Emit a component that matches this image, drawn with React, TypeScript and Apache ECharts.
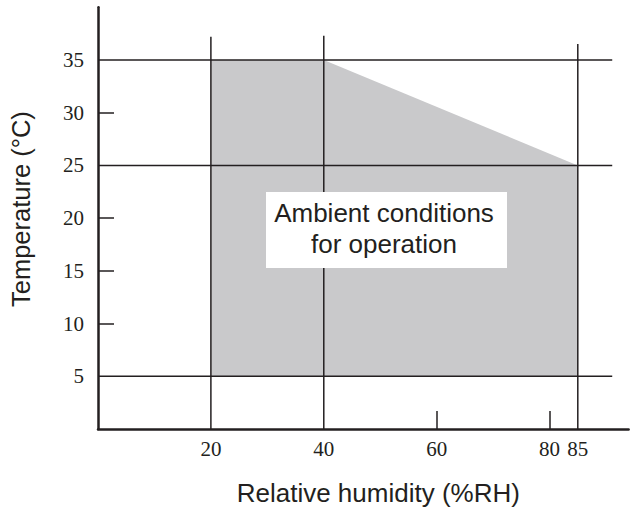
import React, { useEffect, useRef } from "react";
import * as echarts from "echarts";

// Operating region (humidity %RH, temperature °C)
const regionHumidity = [20, 20, 40, 85, 85];
const regionTemperature = [5, 35, 35, 25, 5];

// Reference lines
const horizontalTemps = [5, 25, 35];
const horizontalEnd = 91.1;
const verticalHumidity = [20, 40, 85];
const verticalTops = [37.2, 37.3, 36.5];

// Tick labels
const xLabelValues = [20, 40, 60, 80, 85];
const xTickValues = [60, 80];
const yLabelValues = [5, 10, 15, 20, 25, 30, 35];
const yTickValues = [10, 15, 20, 30];

const INK = "#231f20";

export default function App() {
  const ref = useRef<HTMLDivElement>(null);
  useEffect(() => {
    if (!ref.current) return;
    const chart = echarts.init(ref.current, undefined, { renderer: "svg" });
    const polygon = regionHumidity.map((h, i) => [h, regionTemperature[i]]);

    const lineSeries: any[] = [];
    horizontalTemps.forEach((t) => {
      lineSeries.push({
        type: "line",
        data: [[0, t], [horizontalEnd, t]],
        symbol: "none",
        lineStyle: { color: INK, width: 1.5 },
        z: 3,
        silent: true,
      });
    });
    verticalHumidity.forEach((h, i) => {
      lineSeries.push({
        type: "line",
        data: [[h, 0], [h, verticalTops[i]]],
        symbol: "none",
        lineStyle: { color: INK, width: 1.5 },
        z: 3,
        silent: true,
      });
    });

    chart.setOption({
      animation: false,
      grid: { left: 97.5, right: 3.4, top: 7.2, bottom: 79 },
      xAxis: {
        type: "value",
        min: 0,
        max: 94,
        interval: 5,
        splitLine: { show: false },
        axisLine: { show: true, lineStyle: { color: INK, width: 2.5 } },
        axisTick: {
          show: true,
          inside: true,
          length: 18,
          customValues: xTickValues,
          lineStyle: { color: INK, width: 1.5 },
        },
        axisLabel: {
          customValues: xLabelValues,
          fontFamily: "Liberation Serif",
          fontSize: 21,
          color: INK,
          margin: 9,
        },
        name: "Relative humidity (%RH)",
        nameLocation: "middle",
        nameGap: 51,
        nameTextStyle: {
          fontFamily: "Liberation Sans",
          fontSize: 26,
          color: INK,
          padding: [0, 0, 0, 30],
        },
      },
      yAxis: {
        type: "value",
        min: 0,
        max: 40,
        interval: 5,
        splitLine: { show: false },
        axisLine: { show: true, lineStyle: { color: INK, width: 2.5 } },
        axisTick: {
          show: true,
          inside: true,
          length: 16,
          customValues: yTickValues,
          lineStyle: { color: INK, width: 1.5 },
        },
        axisLabel: {
          customValues: yLabelValues,
          fontFamily: "Liberation Serif",
          fontSize: 21,
          color: INK,
          margin: 14,
        },
        name: "Temperature (°C)",
        nameLocation: "middle",
        nameGap: 64,
        nameRotate: 90,
        nameTextStyle: {
          fontFamily: "Liberation Sans",
          fontSize: 25.5,
          color: INK,
          padding: [0, 0, 0, 18],
        },
      },
      series: [
        {
          type: "custom",
          data: [0],
          silent: true,
          z: 1,
          renderItem: (_params: any, api: any) => {
            const pts = polygon.map((p) => api.coord(p));
            return {
              type: "polygon",
              shape: { points: pts },
              style: { fill: "#c9c9cb" },
            };
          },
        },
        ...lineSeries,
      ],
      graphic: [
        {
          type: "rect",
          z: 100,
          shape: { x: 266, y: 192, width: 241, height: 76 },
          style: { fill: "#ffffff" },
        },
        {
          type: "text",
          z: 101,
          x: 384,
          y: 213,
          style: {
            text: "Ambient conditions",
            fontFamily: "Liberation Sans",
            fontSize: 26,
            fill: INK,
            align: "center",
            verticalAlign: "middle",
          },
        },
        {
          type: "text",
          z: 101,
          x: 384,
          y: 244,
          style: {
            text: "for operation",
            fontFamily: "Liberation Sans",
            fontSize: 26,
            fill: INK,
            align: "center",
            verticalAlign: "middle",
          },
        },
      ],
    });
    return () => chart.dispose();
  }, []);
  return (
    <div
      ref={ref}
      style={{ position: "fixed", left: 0, top: 0, width: 632, height: 511, background: "#fff" }}
    />
  );
}
